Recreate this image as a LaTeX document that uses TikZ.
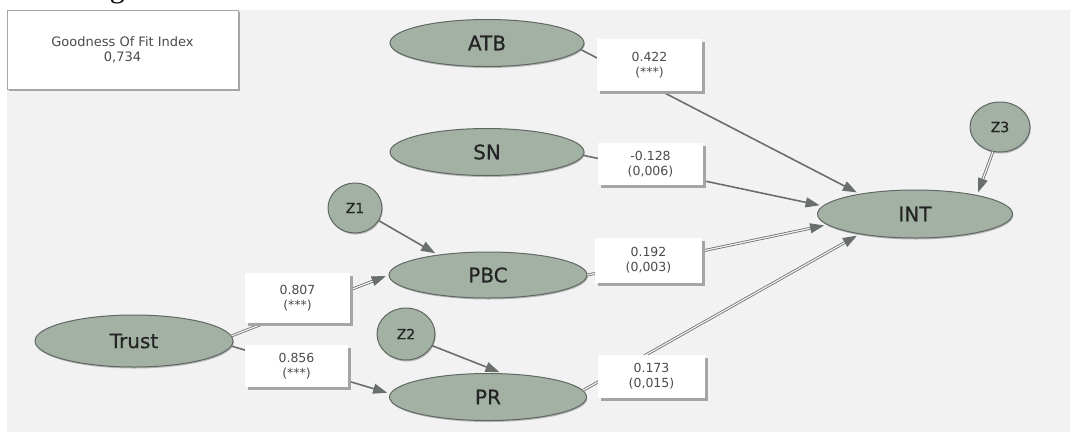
\documentclass[tikz,border=0pt]{standalone}
\usepackage{fontspec}
\setmainfont{DejaVu Sans}
\newfontfamily\serifpart{Liberation Serif}
\newfontfamily\nodefont[FakeBold=0.5]{DejaVu Sans}
\usetikzlibrary{shapes.geometric,arrows.meta,shadows}
\definecolor{bgc}{RGB}{242,242,242}
\definecolor{ellfill}{RGB}{163,177,165}
\definecolor{elldraw}{RGB}{95,105,98}
\definecolor{arr}{RGB}{105,112,108}
\definecolor{txt}{RGB}{35,35,35}
\definecolor{lbltxt}{RGB}{75,75,75}
\definecolor{shad}{RGB}{165,165,165}
\begin{document}
\begin{tikzpicture}[x=1pt,y=-1pt,
  latent/.style={ellipse, fill=ellfill, draw=elldraw, line width=1pt, inner sep=0pt,
    font=\nodefont\fontsize{20}{24}\selectfont, text=txt,
    drop shadow={shadow xshift=0.8pt, shadow yshift=-1.5pt, fill=black!45, opacity=0.6}},
  errterm/.style={latent, font=\nodefont\fontsize{14}{16}\selectfont},
  lblbox/.style={rectangle, fill=white, inner sep=0pt, align=center,
    font=\fontsize{12.5}{15}\selectfont, text=lbltxt,
    drop shadow={shadow xshift=2.5pt, shadow yshift=-2.5pt, fill=shad, opacity=1}},
  gofbox/.style={rectangle, fill=white, draw=gray!70, line width=0.8pt, inner sep=0pt, align=center,
    font=\fontsize{13}{15}\selectfont, text=lbltxt,
    drop shadow={shadow xshift=2pt, shadow yshift=-2pt, fill=shad, opacity=1}},
  sgl/.style={draw=arr, line width=1.6pt, shorten >=3pt, -{Triangle[length=14pt,width=10pt]}},
  dbl/.style={draw=arr, line width=0.8pt, double=bgc, double distance=1.2pt, shorten >=3pt,
    -{Triangle[length=14pt,width=10pt]}}
]
\useasboundingbox (0,0) rectangle (1070,432);
\fill[white] (0,0) rectangle (1070,432);
\fill[bgc] (7,10) rectangle (1070,432);

\node[anchor=base east, inner sep=0pt, font=\serifpart\fontsize{30}{34}\selectfont] (toptext) at (200,-3) {e following chart.};

\node[gofbox, minimum width=231pt, minimum height=79pt] (gof) at (122.5,49.5) {Goodness Of Fit Index\\0,734};

\node[latent, minimum width=194pt, minimum height=47pt] (ATB) at (487,43) {ATB};
\node[latent, minimum width=194pt, minimum height=47pt] (SN) at (487,152) {SN};
\node[latent, minimum width=198pt, minimum height=46pt] (PBC) at (488,275) {PBC};
\node[latent, minimum width=197pt, minimum height=47pt] (PR) at (488,397) {PR};
\node[latent, minimum width=198pt, minimum height=52pt] (Trust) at (134,341) {Trust};
\node[latent, minimum width=195pt, minimum height=48pt] (INT) at (915,214) {INT};
\node[errterm, minimum width=54pt, minimum height=50pt] (Z1) at (355,208) {Z1};
\node[errterm, minimum width=58pt, minimum height=52pt] (Z2) at (406,334) {Z2};
\node[errterm, minimum width=60pt, minimum height=50pt] (Z3) at (1000,127) {Z3};

\draw[sgl] (ATB.-4) -- (INT.160);
\draw[sgl] (SN.-2) -- (INT.175);
\draw[dbl] (PBC.east) -- (INT.187);
\draw[dbl] (PR.4) -- (INT.200);
\draw[dbl] (Z3.254) -- (INT.17);
\draw[sgl] (Z1.332) -- (PBC.158);
\draw[sgl] (Z2.336) -- (PR.59);
\draw[dbl] (Trust.3) -- (PBC.west);
\draw[sgl] (Trust.-3) -- (PR.178);

\node[lblbox, minimum width=105pt, minimum height=52pt] (l1) at (649.5,65) {0.422\\(***)};
\node[lblbox, minimum width=105pt, minimum height=42pt] (l2) at (650.5,164) {-0.128\\(0,006)};
\node[lblbox, minimum width=107pt, minimum height=45pt] (l3) at (648.5,260.5) {0.192\\(0,003)};
\node[lblbox, minimum width=107pt, minimum height=43pt] (l4) at (651.5,376.5) {0.173\\(0,015)};
\node[lblbox, minimum width=105pt, minimum height=50pt] (l5) at (297.5,298) {0.807\\(***)};
\node[lblbox, minimum width=103pt, minimum height=42pt] (l6) at (296.5,366) {0.856\\(***)};
\end{tikzpicture}
\end{document}
